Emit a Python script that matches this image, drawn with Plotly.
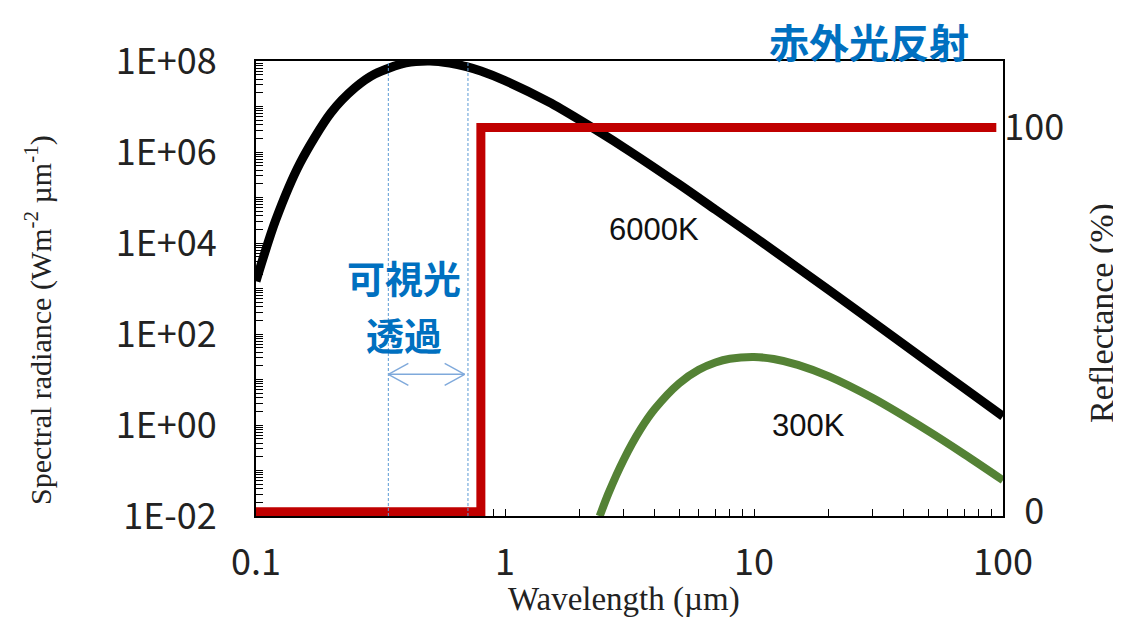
import plotly.graph_objects as go

# ---- data ----
wl_6000 = [0.1, 0.12, 0.15, 0.2, 0.25, 0.3, 0.4, 0.5, 0.6, 0.7, 0.8, 1.0, 1.5, 2, 3, 5, 7, 10, 20, 30, 50, 70, 100]
rad_6000 = [1.45e3, 3.2e4, 5.6e5, 7.3e6, 2.6e7, 5.2e7, 9.1e7, 1.0e8, 9.0e7, 7.5e7, 6.0e7, 3.7e7, 1.25e7,
            5.0e6, 1.26e6, 1.95e5, 5.4e4, 1.38e4, 920, 185, 24, 6.4, 1.55]

wl_300 = [2.4, 2.6, 3, 3.5, 4, 5, 6, 7, 8, 10, 12, 15, 20, 30, 50, 70, 100]
rad_300 = [0.0099, 0.031, 0.175, 0.80, 2.27, 8.2, 16.3, 23.6, 28.5, 31.2, 28.2, 21.0, 11.7, 3.9, 0.74, 0.226, 0.061]

wl_refl = [0.1, 0.8, 0.8, 94]
reflectance = [0, 0, 100, 100]

x_tickvals = [0.1, 1, 10, 100]
x_ticktext = ["0.1", "1", "10", "100"]
y_tickvals = [1e-2, 1e0, 1e2, 1e4, 1e6, 1e8]
y_ticktext = ["1E-02", "1E+00", "1E+02", "1E+04", "1E+06", "1E+08"]
y2_tickvals = [0, 100]
y2_ticktext = ["\u20070", "100"]

visible_band = [0.34, 0.71]
arrow_y = 13

# ---- styles ----
TICK_FONT = dict(family="Noto Sans CJK JP, Noto Sans, sans-serif", size=36, color="#222222")
SERIF = "Liberation Serif, Times New Roman, serif"
JP_FONT = dict(family="Noto Sans CJK JP, sans-serif", size=40, color="#0070C0", weight="bold")
JP_FONT_S = dict(family="Noto Sans CJK JP, sans-serif", size=38, color="#0070C0", weight="bold")
LABEL_FONT = dict(family="Liberation Sans, Arial, sans-serif", size=31, color="#111111")

# plot-area geometry (pixels) used only to place texts
L, R, T, B = 248, 995, 53, 508
W, H = R - L, B - T

fig = go.Figure()
fig.add_trace(go.Scatter(x=wl_6000, y=rad_6000, mode="lines", name="6000K",
                         line=dict(color="black", width=9, shape="spline", smoothing=0.8),
                         yaxis="y", showlegend=False))
fig.add_trace(go.Scatter(x=wl_300, y=rad_300, mode="lines", name="300K",
                         line=dict(color="#548235", width=8, shape="spline", smoothing=0.8),
                         yaxis="y", showlegend=False))
fig.add_trace(go.Scatter(x=wl_refl, y=reflectance, mode="lines", name="Reflectance",
                         line=dict(color="#C00000", width=9),
                         yaxis="y2", showlegend=False))

# visible band dashed lines
shapes = []
for xv in visible_band:
    shapes.append(dict(type="line", xref="x", yref="paper", x0=xv, x1=xv, y0=0, y1=1,
                       line=dict(color="#5B9BD5", width=1, dash="3px,2px"), layer="above"))
# double-headed open arrow
arrow_col = "#7FA9DB"
arrow_end = visible_band[1] * 0.97
head_dx = 10 ** (20 / W * 3)      # 20 px along the log-x axis
head_dy = 10 ** (11 / H * 10)     # 11 px along the log-y axis
shapes.append(dict(type="line", xref="x", yref="y", x0=visible_band[0], x1=arrow_end,
                   y0=arrow_y, y1=arrow_y, line=dict(color=arrow_col, width=1.4)))
for tip, fac in [(visible_band[0], head_dx), (arrow_end, 1 / head_dx)]:
    for yf in (head_dy, 1 / head_dy):
        shapes.append(dict(type="line", xref="x", yref="y", x0=tip, x1=tip * fac,
                           y0=arrow_y, y1=arrow_y * yf, line=dict(color=arrow_col, width=1.4)))

def ann(text, px, py, font, angle=0):
    return dict(text=text, xref="paper", yref="paper", x=(px - L) / W, y=(B - py) / H,
                xanchor="center", yanchor="middle", showarrow=False, font=font, textangle=angle)

annotations = [
    ann("6000K", 646, 221, LABEL_FONT),
    ann("300K", 800, 417, LABEL_FONT),
    ann("可視光", 396, 268, JP_FONT_S),
    ann("透過", 396, 325, JP_FONT_S),
    ann("赤外光反射", 861, 33, JP_FONT),
    ann("Spectral radiance (Wm<sup>-2</sup> µm<sup>-1</sup>)", 30, 312,
        dict(family=SERIF, size=30, color="#222222"), -90),
    ann("Reflectance (%)", 1094, 305, dict(family=SERIF, size=34, color="#222222"), -90),
    ann("Wavelength (µm)", 616, 591, dict(family=SERIF, size=33, color="#222222")),
]

fig.update_layout(
    width=1121, height=617,
    margin=dict(l=L, r=1121 - R, t=T, b=617 - B, autoexpand=False),
    paper_bgcolor="white", plot_bgcolor="white",
    shapes=shapes, annotations=annotations,
    xaxis=dict(type="log", range=[-1, 2], tickmode="array", tickvals=x_tickvals, ticktext=x_ticktext,
               ticks="inside", ticklen=7, tickcolor="black", tickwidth=1.3,
               minor=dict(ticks="inside", ticklen=7, dtick="D1", tickcolor="black", tickwidth=1.3, showgrid=False),
               showline=True, linecolor="black", linewidth=2, mirror=True,
               showgrid=False, zeroline=False, tickfont=TICK_FONT, ticklabelstandoff=14,
               layer="below traces"),
    yaxis=dict(type="log", range=[-2, 8], tickmode="array", tickvals=y_tickvals, ticktext=y_ticktext,
               ticks="inside", ticklen=7, tickcolor="black", tickwidth=1.3,
               minor=dict(ticks="inside", ticklen=7, dtick="D1", tickcolor="black", tickwidth=1.3, showgrid=False),
               showline=True, linecolor="black", linewidth=2,
               showgrid=False, zeroline=False, tickfont=TICK_FONT, ticklabelstandoff=30,
               layer="below traces"),
    yaxis2=dict(overlaying="y", side="right", range=[-1.09, 117.3], tickmode="array",
                tickvals=y2_tickvals, ticktext=y2_ticktext, ticks="",
                showline=True, linecolor="black", linewidth=2, showgrid=False, zeroline=False,
                tickfont=TICK_FONT, ticklabelstandoff=-8),
)

fig.write_html("out.html")
